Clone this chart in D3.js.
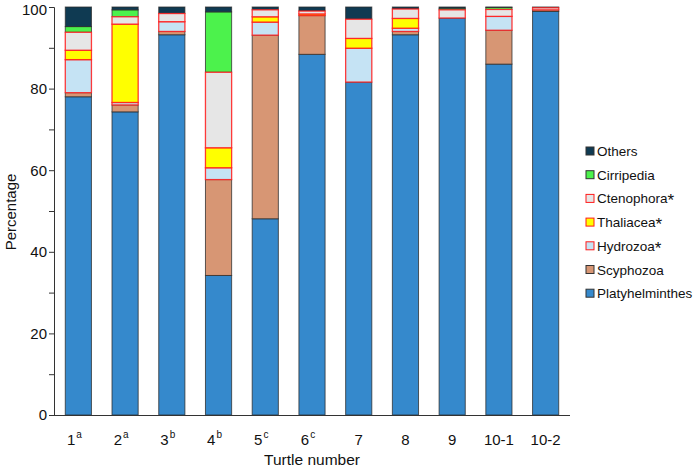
<!DOCTYPE html>
<html><head><meta charset="utf-8">
<script src="https://cdn.jsdelivr.net/npm/d3@7"></script>
<style>body{margin:0;background:#fff}svg{font-family:"Liberation Sans",Arial,sans-serif}</style>
</head><body><svg id="c" width="694" height="469"></svg>
<script>
const categories = ["1","2","3","4","5","6","7","8","9","10-1","10-2"];
const superscripts = ["a","a","b","b","c","c","","","","",""];
const platyhelminthes = [78.0, 74.3, 93.2, 34.2, 48.1, 88.4, 81.6, 93.2, 97.3, 86.0, 98.9];
const scyphozoa       = [1.0, 1.7, 0.8, 23.5, 45.0, 9.5, 0, 0.8, 0, 8.3, 0.4];
const hydrozoa        = [8.1, 0.6, 2.4, 2.9, 3.2, 0, 8.3, 0.8, 0, 3.4, 0];
const thaliacea       = [2.3, 19.2, 0, 4.9, 1.3, 0.4, 2.4, 2.4, 0, 0, 0];
const ctenophora      = [4.4, 1.8, 2.0, 18.5, 1.7, 0.7, 4.7, 2.3, 2.0, 1.7, 0.5];
const cirripedia      = [1.4, 1.7, 0, 14.8, 0, 0, 0, 0, 0.4, 0.5, 0];
const others          = [4.8, 0.7, 1.6, 1.2, 0.7, 1.0, 3.0, 0.5, 0.3, 0.1, 0.2];
const yTicks = [0, 20, 40, 60, 80, 100];

const seriesNames = ["Platyhelminthes","Scyphozoa","Hydrozoa","Thaliacea","Ctenophora","Cirripedia","Others"];
const seriesVals = [platyhelminthes, scyphozoa, hydrozoa, thaliacea, ctenophora, cirripedia, others];
const starred = {Hydrozoa:true, Thaliacea:true, Ctenophora:true};
const fills = {Platyhelminthes:"#3589cc", Scyphozoa:"#d79674", Hydrozoa:"#c5e3f4",
  Thaliacea:"#ffff00", Ctenophora:"#e6e6e6", Cirripedia:"#4cf24c", Others:"#0f3a52"};

const rows = categories.map((c,i)=>{const r={cat:c}; seriesNames.forEach((s,j)=>r[s]=seriesVals[j][i]); return r;});
const stacked = d3.stack().keys(seriesNames)(rows);

const svg = d3.select("#c");
const x = d3.scaleBand().domain(categories).range([55, 569]).paddingInner(0.44).paddingOuter(0.22);
const y = d3.scaleLinear().domain([0,100]).range([415, 7]);

const drawLayer = (filterFn) => {
  stacked.filter(filterFn).forEach(layer=>{
    const key = layer.key;
    svg.append("g").selectAll("rect").data(layer.filter(d=>d[1]-d[0]>0)).join("rect")
      .attr("x", d=>x(d.data.cat))
      .attr("width", x.bandwidth())
      .attr("y", d=>y(d[1]))
      .attr("height", d=>y(d[0])-y(d[1]))
      .attr("fill", fills[key])
      .attr("stroke", starred[key] ? "#ff1a1a" : "#2a2a2a")
      .attr("stroke-opacity", starred[key] ? 0.85 : 0.75)
      .attr("stroke-width", starred[key] ? 1.3 : 1);
  });
};
drawLayer(l=>!starred[l.key]);
drawLayer(l=>starred[l.key]);

const yAxis = d3.axisLeft(y).tickValues(d3.range(0,101,10)).tickSize(5)
  .tickFormat(d=> yTicks.includes(d) ? d : "");
const ga = svg.append("g").attr("transform","translate(54,0)").call(yAxis);
ga.select(".domain").attr("stroke","#333");
ga.selectAll(".tick line").attr("stroke","#333");
ga.selectAll(".tick text").attr("font-size",15).attr("fill","#111").attr("x",-7)
  .attr("font-family","Liberation Sans, Arial, sans-serif")
  .attr("dy", d => d === 100 ? "0.48em" : "0.32em");

svg.append("line").attr("x1",50).attr("x2",570).attr("y1",415.5).attr("y2",415.5).attr("stroke","#333");

const xl = svg.append("g").selectAll("text").data(categories).join("text")
  .attr("x",(d,i)=> x(d)+x.bandwidth()/2 - (superscripts[i]?4:0))
  .attr("y",445).attr("text-anchor","middle").attr("font-size",15).attr("fill","#111");
xl.append("tspan").text(d=>d);
xl.append("tspan").text((d,i)=>superscripts[i]).attr("font-size",10).attr("dx",1).attr("dy",-7);

svg.append("text").attr("x",312).attr("y",465).attr("text-anchor","middle")
  .attr("font-size",15.5).attr("fill","#111").text("Turtle number");
svg.append("text").attr("transform","translate(16,212) rotate(-90)").attr("text-anchor","middle")
  .attr("font-size",15).attr("fill","#111").text("Percentage");

const legendOrder = seriesNames.slice().reverse();
const lg = svg.append("g").selectAll("g").data(legendOrder).join("g")
  .attr("transform",(d,i)=>`translate(586,${151 + i*23.7})`);
lg.append("rect").attr("x",0).attr("y",-4).attr("width",8).attr("height",8)
  .attr("fill",d=>fills[d]).attr("stroke",d=>starred[d]?"#ff1a1a":"#333").attr("stroke-width",1);
const lt = lg.append("text").attr("x",11).attr("y",5).attr("font-size",13.5).attr("fill","#111");
lt.append("tspan").text(d=>d);
lt.append("tspan").text(d=>starred[d]?"*":"").attr("font-size",17).attr("dy",3);
</script></body></html>
